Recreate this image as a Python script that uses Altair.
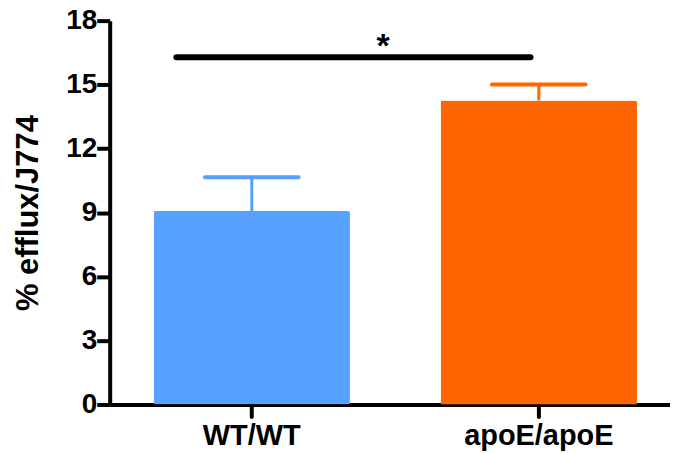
import altair as alt
import pandas as pd

# ---- data ----
groups = ["WT/WT", "apoE/apoE"]
means = [9.07, 14.26]
sems = [1.58, 0.74]
colors = ["#56A0FF", "#FF6600"]
y_ticks = [0, 3, 6, 9, 12, 15, 18]

# significance annotation (fraction of the plot width, data units on y)
sig_x_start = [0.119]
sig_x_end = [0.751]
sig_y = [16.28]
star_x = [0.488]
star_y = [16.75]
star_text = ["*"]

df = pd.DataFrame({
    "group": groups,
    "mean": means,
    "top": [m + s for m, s in zip(means, sems)],
})
sig_df = pd.DataFrame({"x": sig_x_start, "x2": sig_x_end, "y": sig_y})
star_df = pd.DataFrame({"x": star_x, "y": star_y, "t": star_text})

FONT = "Liberation Sans"

xscale = alt.Scale(domain=groups, paddingInner=0.316, paddingOuter=0.134, align=0.571)
yscale = alt.Scale(domain=[0, 18], nice=False)
cscale = alt.Scale(domain=groups, range=colors)

x_enc = alt.X("group:N", scale=xscale, sort=groups,
              axis=alt.Axis(title=None, labelAngle=0, labelFontSize=29, labelFont=FONT,
                            labelFontWeight="bold", labelColor="black", labelPadding=5,
                            tickSize=12, tickWidth=4, tickColor="black", tickCap="round",
                            domainWidth=4, domainColor="black", grid=False, orient="bottom"))
y_axis = alt.Axis(title="% efflux/J774", values=y_ticks, labelFontSize=28, labelFont=FONT,
                  labelFontWeight="bold", labelColor="black", labelPadding=0,
                  tickSize=13, tickWidth=4, tickColor="black",
                  domainWidth=4, domainColor="black", grid=False,
                  titleFontSize=31, titleFont=FONT, titleFontWeight="bold",
                  titleColor="black", titlePadding=21)

bars = alt.Chart(df).mark_bar(cornerRadiusTopLeft=2, cornerRadiusTopRight=2).encode(
    x=x_enc,
    y=alt.Y("mean:Q", scale=yscale, axis=y_axis),
    color=alt.Color("group:N", scale=cscale, legend=None),
)

stems = alt.Chart(df).mark_rule(strokeWidth=3).encode(
    x=alt.X("group:N", scale=xscale, sort=groups),
    y="mean:Q", y2="top:Q",
    color=alt.Color("group:N", scale=cscale, legend=None),
)

caps = alt.Chart(df).mark_tick(size=98, thickness=4, orient="horizontal", cornerRadius=2,
                               opacity=1).encode(
    x=alt.X("group:N", scale=xscale, sort=groups),
    y="top:Q",
    color=alt.Color("group:N", scale=cscale, legend=None),
)

base = alt.layer(bars, stems, caps)

sig = alt.Chart(sig_df).mark_rule(strokeWidth=6, strokeCap="round", color="black").encode(
    x=alt.X("x:Q", scale=alt.Scale(domain=[0, 1]), axis=None),
    x2="x2:Q",
    y=alt.Y("y:Q", scale=yscale),
)
star = alt.Chart(star_df).mark_text(fontSize=34, fontWeight="bold", font=FONT,
                                    color="black", baseline="middle").encode(
    x=alt.X("x:Q", scale=alt.Scale(domain=[0, 1]), axis=None),
    y=alt.Y("y:Q", scale=yscale),
    text="t:N",
)
annot = alt.layer(sig, star)

chart = alt.layer(base, annot).resolve_scale(x="independent").properties(
    width=562, height=385,
    background="white",
    autosize=alt.AutoSizeParams(type="none"),
    padding={"left": 102, "top": 12, "right": 0, "bottom": 48},
).configure_view(strokeWidth=0, stroke="transparent").configure_axisTop(
    domain=False, ticks=False, labels=False, grid=False
)

chart.save("out.html", embed_options={"renderer": "svg", "actions": False})
